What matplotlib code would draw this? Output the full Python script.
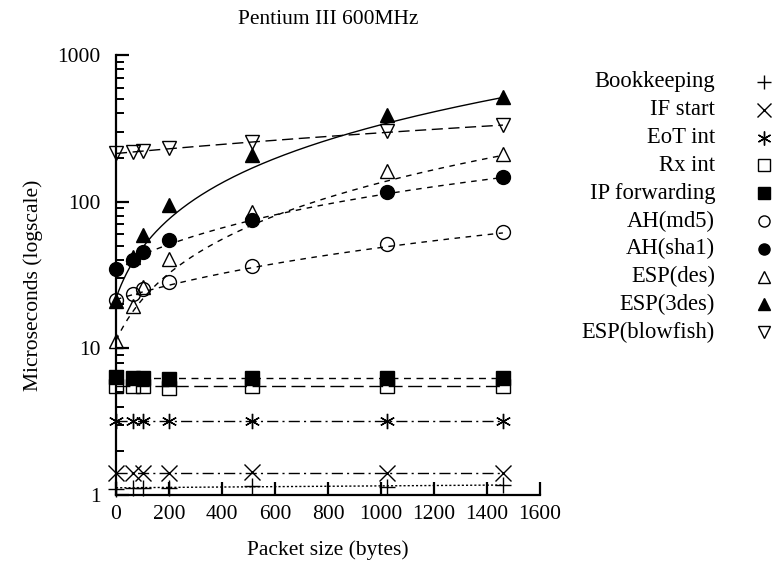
import numpy as np
import matplotlib
matplotlib.use("Agg")
import matplotlib.pyplot as plt
from matplotlib.ticker import FixedLocator, NullFormatter, FuncFormatter

# ---- data ----
packet_sizes = [0, 64, 100, 200, 512, 1024, 1460]
bookkeeping = [1.10, 1.12, 1.12, 1.11, 1.15, 1.13, 1.17]
if_start = [1.42, 1.42, 1.42, 1.41, 1.43, 1.42, 1.42]
eot_int = [3.2, 3.2, 3.2, 3.2, 3.2, 3.2, 3.2]
rx_int = [5.5, 5.5, 5.5, 5.4, 5.5, 5.5, 5.5]
ip_forwarding = [6.4, 6.3, 6.3, 6.2, 6.3, 6.3, 6.3]
ah_md5 = [21.3, 23.3, 25.2, 28.4, 36.3, 51.8, 62.2]
ah_sha1 = [35.0, 39.9, 45.4, 54.6, 74.8, 115.6, 147.6]
esp_des = [11.3, 19.4, 26.2, 40.5, 85.2, 161.6, 213.0]
esp_3des = [21.0, 42.0, 59.7, 94.6, 208.0, 389.0, 519.0]
esp_blowfish = [215, 219, 222, 231, 256, 304, 333]

# fitted trend curves as drawn in the reference: [c0, c1, c2] of c0 + c1*x + c2*x^2
trend_bookkeeping = [1.12, 0.000034, 0.0]
trend_if_start = [1.42, 0.0, 0.0]
trend_eot_int = [3.2, 0.0, 0.0]
trend_rx_int = [5.5, 0.0, 0.0]
trend_ip_forwarding = [6.3, 0.0, 0.0]
trend_ah_md5 = [21.5, 0.0272, 0.0]
trend_ah_sha1 = [36.0, 0.0755, 0.0]
trend_esp_des = [11.3, 0.1012, 2.25e-5]
trend_esp_3des = [22.0, 0.260, 5.26e-5]
trend_esp_blowfish = [213.0, 0.082, 0.0]

labels = ["Bookkeeping", "IF start", "EoT int", "Rx int", "IP forwarding",
          "AH(md5)", "AH(sha1)", "ESP(des)", "ESP(3des)", "ESP(blowfish)"]
series = [bookkeeping, if_start, eot_int, rx_int, ip_forwarding,
          ah_md5, ah_sha1, esp_des, esp_3des, esp_blowfish]
trends = [trend_bookkeeping, trend_if_start, trend_eot_int, trend_rx_int,
          trend_ip_forwarding, trend_ah_md5, trend_ah_sha1, trend_esp_des,
          trend_esp_3des, trend_esp_blowfish]

ast = (6, 2, 0)
styles = [
    dict(marker="+", fill=False, ls=(0, (1.5, 1.5))),
    dict(marker="x", fill=False, ls=(0, (8, 3, 1.5, 3))),
    dict(marker=ast, fill=False, ls=(0, (8, 3, 1.5, 3))),
    dict(marker="s", fill=False, ls=(0, (10, 4))),
    dict(marker="s", fill=True, ls=(0, (5, 4))),
    dict(marker="o", fill=False, ls=(0, (4, 4))),
    dict(marker="o", fill=True, ls=(0, (4, 4))),
    dict(marker="^", fill=False, ls=(0, (4, 4))),
    dict(marker="^", fill=True, ls="-"),
    dict(marker="v", fill=False, ls=(0, (8, 4))),
]

plt.rcParams["font.family"] = ["Liberation Serif", "DejaVu Serif"]
plt.rcParams["font.size"] = 15.5

fig = plt.figure(figsize=(7.73, 5.65), dpi=100)
ax = fig.add_axes([116 / 773, 1 - 495 / 565, (540 - 116) / 773, (495 - 55) / 565])

x = np.array(packet_sizes, dtype=float)
xs = np.linspace(x.min(), x.max(), 300)
for vals, tr, st in zip(series, trends, styles):
    y = np.array(vals, dtype=float)
    ax.plot(xs, np.polyval(tr[::-1], xs), color="black", lw=1.0, ls=st["ls"], zorder=2)
    if st["marker"] in ("+", "x", ast):
        ax.plot(x, y, ls="none", marker=st["marker"], ms=11, mew=1.0,
                color="black", zorder=3, clip_on=False)
    else:
        ms = 10 if st["marker"] == "o" else 9.5
        ax.plot(x, y, ls="none", marker=st["marker"], ms=ms, mew=1.0,
                mec="black", mfc="black" if st["fill"] else "none",
                zorder=3, clip_on=False)

ax.set_yscale("log")
ax.set_xlim(0, 1600)
ax.set_ylim(1, 1000)
ax.set_xticks(range(0, 1601, 200))
ax.yaxis.set_major_locator(FixedLocator([1, 10, 100, 1000]))
ax.yaxis.set_major_formatter(FuncFormatter(lambda v, p: f"{int(round(v))}"))
minor = [m * 10 ** d for d in range(0, 3) for m in range(2, 10)]
ax.yaxis.set_minor_locator(FixedLocator(minor))
ax.yaxis.set_minor_formatter(NullFormatter())

for s in ("top", "right"):
    ax.spines[s].set_visible(False)
for s in ("left", "bottom"):
    ax.spines[s].set_linewidth(1.6)
ax.tick_params(axis="both", which="major", direction="in", length=9.5, width=1.6,
               labelsize=15.5)
ax.tick_params(axis="y", which="major", pad=11)
ax.tick_params(axis="x", which="major", pad=7)
ax.tick_params(axis="y", which="minor", direction="in", length=5.5, width=1.4)
ax.tick_params(axis="x", which="minor", bottom=False)

fig.text(328 / 773, 1 - 19 / 565, "Pentium III 600MHz", ha="center", va="center", fontsize=15.5)
fig.text(328 / 773, 1 - 550 / 565, "Packet size (bytes)", ha="center", va="center", fontsize=15.5)
fig.text(33 / 773, 1 - 285 / 565, "Microseconds (logscale)", ha="center", va="center",
         rotation=90, fontsize=15.5)

# legend: label right-aligned, marker to the right, no line sample
for i, (lab, st) in enumerate(zip(labels, styles)):
    yy = 1 - (82 + 27.8 * i) / 565
    fig.text(715 / 773, yy, lab, ha="right", va="center", fontsize=16.3)
    if st["marker"] in ("+", "x", ast):
        fig.lines.append(plt.Line2D([764 / 773], [yy], marker=st["marker"], ms=10,
                                    mew=1.0, color="black", ls="none",
                                    transform=fig.transFigure))
    else:
        fig.lines.append(plt.Line2D([764 / 773], [yy], marker=st["marker"], ms=8,
                                    mew=1.0, mec="black",
                                    mfc="black" if st["fill"] else "none",
                                    ls="none", transform=fig.transFigure))

fig.savefig("out.png", dpi=100)
